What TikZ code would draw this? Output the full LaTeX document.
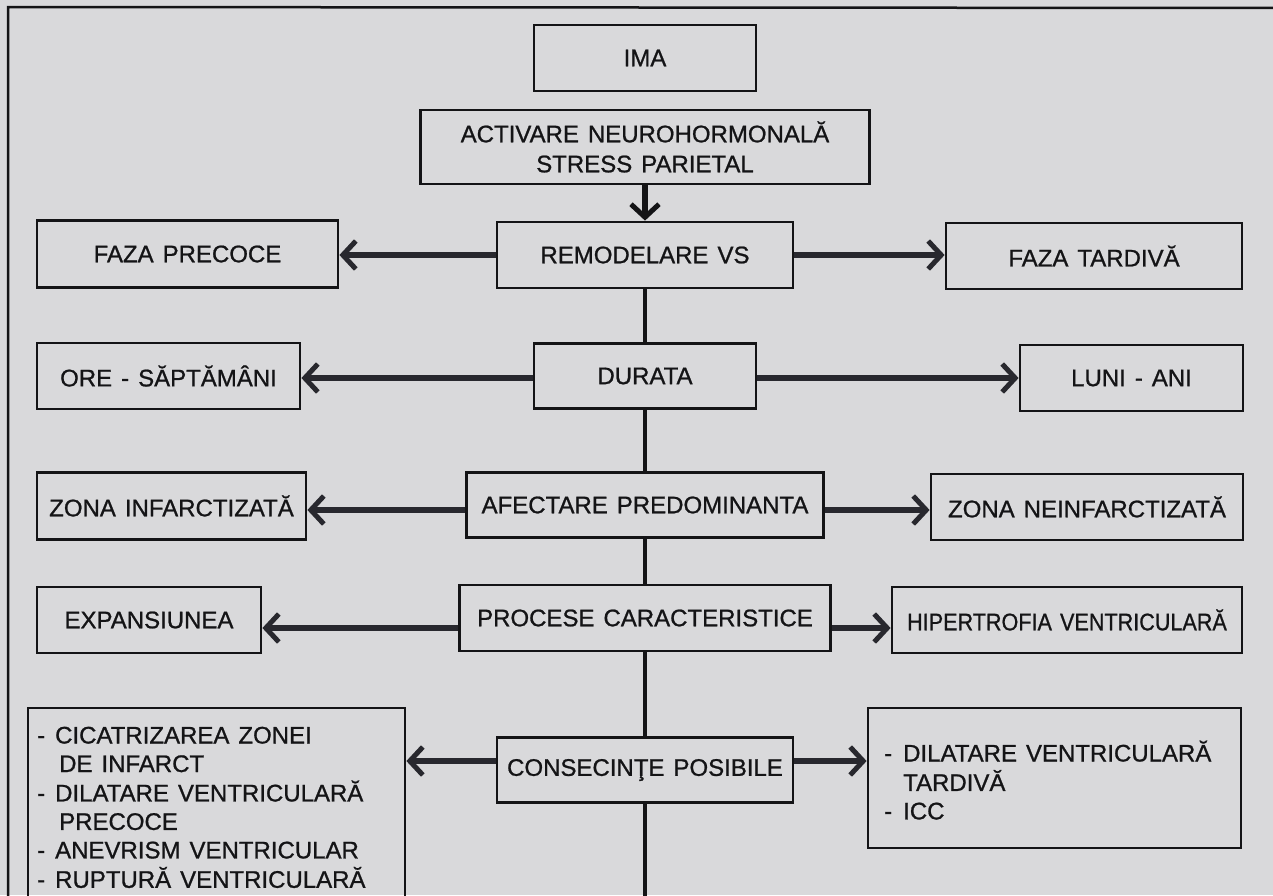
\documentclass[tikz,border=0pt]{standalone}
\usepackage{fontspec}
\setmainfont[FakeBold=0.9]{Liberation Sans}
\usetikzlibrary{arrows.meta,calc}
\definecolor{bg}{RGB}{217,217,219}
\definecolor{ink}{RGB}{20,20,22}
\definecolor{shaft}{RGB}{40,40,46}
\newcommand\boxfont{\fontsize{24}{30}\selectfont\spaceskip=9pt plus 2pt\relax}
\newcommand\listfont{\fontsize{24}{28.5}\selectfont\spaceskip=9pt plus 2pt\relax}
\tikzset{
  box/.style={draw=ink, line width=2.8pt, rectangle, inner sep=0pt, text=ink,
    font=\boxfont, align=center},
  listtext/.style={inner sep=0pt, text=ink, anchor=base west, font=\listfont},
  conn/.style={draw=shaft, line width=5.5pt,
    -{Straight Barb[length=13pt,width=28pt,line width=5pt]}},
  trunk/.style={draw=ink, line width=4pt},
  frameline/.style={draw=ink, line width=2.5pt},
}
\begin{document}
\begin{tikzpicture}[x=1pt,y=-1pt]
\useasboundingbox (0,0) rectangle (1273,895);
\fill[bg] (0,0) rectangle (1273,895);
\clip (0,0) rectangle (1273,895);
% outer frame
\coordinate (fbl) at (8,900);
\coordinate (ftl) at (8,7);
\coordinate (ftr) at (1280,8);
\draw[frameline] (fbl) -- (ftl) -- (ftr);
% central column
\node[box, minimum width=222pt, minimum height=66pt] (ima) at (645,58) {IMA};
\node[box, minimum width=449pt, minimum height=74pt] (act) at (645,147)
  {ACTIVARE NEUROHORMONALĂ\\STRESS PARIETAL};
\node[box, minimum width=296pt, minimum height=66pt] (remod) at (645,255) {REMODELARE VS};
\node[box, minimum width=222pt, minimum height=65pt] (durata) at (645,376) {DURATA};
\node[box, minimum width=357pt, minimum height=65pt] (afect) at (645,505) {AFECTARE PREDOMINANTA};
\node[box, minimum width=371pt, minimum height=66pt] (proc) at (645,618) {PROCESE CARACTERISTICE};
\node[box, minimum width=296pt, minimum height=65pt] (cons) at (645,770) {CONSECINŢE POSIBILE};
% left column
\node[box, minimum width=301pt, minimum height=67pt] (fazap) at (187.5,254) {FAZA PRECOCE};
\node[box, minimum width=263pt, minimum height=66pt] (ore) at (168.5,376) {ORE - SĂPTĂMÂNI};
\node[box, minimum width=269pt, minimum height=67pt] (zonai) at (171.5,506) {ZONA INFARCTIZATĂ};
\node[box, minimum width=224pt, minimum height=66pt] (exp) at (149,620) {EXPANSIUNEA};
\node[box, minimum width=377pt, minimum height=200pt] (lbox) at (216.5,808) {};
\node[listtext] (ltext) at (37,743.5) {%
  \begin{tabular}[t]{@{}l@{}}
  \makebox[18pt][l]{-}CICATRIZAREA ZONEI\\
  \hspace*{22pt}DE INFARCT\\
  \makebox[18pt][l]{-}DILATARE VENTRICULARĂ\\
  \hspace*{22pt}PRECOCE\\
  \makebox[18pt][l]{-}ANEVRISM VENTRICULAR\\
  \makebox[18pt][l]{-}RUPTURĂ VENTRICULARĂ
  \end{tabular}};
% right column
\node[box, minimum width=296pt, minimum height=66pt] (fazat) at (1094,256) {FAZA TARDIVĂ};
\node[box, minimum width=223pt, minimum height=66pt] (luni) at (1131.5,378) {LUNI - ANI};
\node[box, minimum width=312pt, minimum height=66pt] (zonan) at (1087,507) {ZONA NEINFARCTIZATĂ};
\node[box, minimum width=350pt, minimum height=66pt] (hiper) at (1067,620)
  {\scalebox{0.9}[1]{HIPERTROFIA VENTRICULARĂ}};
\node[box, minimum width=373pt, minimum height=140pt] (rbox) at (1054.5,778) {};
\node[listtext] (rtext) at (884,761.5) {%
  \begin{tabular}[t]{@{}l@{}}
  \makebox[19pt][l]{-}DILATARE VENTRICULARĂ\\
  \hspace*{19pt}TARDIVĂ\\
  \makebox[19pt][l]{-}ICC
  \end{tabular}};
% trunk
\coordinate (tend) at (645,900);
\draw[conn, draw=ink] (act.south) -- (remod.north);
\draw[trunk] (remod.south) -- (durata.north);
\draw[trunk] (durata.south) -- (afect.north);
\draw[trunk] (afect.south) -- (proc.north);
\draw[trunk] (proc.south) -- (cons.north);
\draw[trunk] (cons.south) -- (tend);
% horizontal arrows
\draw[conn] (remod.west) -- (remod.west -| fazap.east);
\draw[conn] (remod.east) -- (remod.east -| fazat.west);
\draw[conn] ($(durata.west)+(0,2)$) -- ($(durata.west -| ore.east)+(0,2)$);
\draw[conn] ($(durata.east)+(0,2)$) -- ($(durata.east -| luni.west)+(0,2)$);
\draw[conn] ($(afect.west)+(0,5)$) -- ($(afect.west -| zonai.east)+(0,5)$);
\draw[conn] ($(afect.east)+(0,5)$) -- ($(afect.east -| zonan.west)+(0,5)$);
\draw[conn] ($(proc.west)+(0,10)$) -- ($(proc.west -| exp.east)+(0,10)$);
\draw[conn] ($(proc.east)+(0,10)$) -- ($(proc.east -| hiper.west)+(0,10)$);
\draw[conn] ($(cons.west)+(0,-9)$) -- ($(cons.west -| lbox.east)+(0,-9)$);
\draw[conn] ($(cons.east)+(0,-9)$) -- ($(cons.east -| rbox.west)+(0,-9)$);
\end{tikzpicture}
\end{document}
